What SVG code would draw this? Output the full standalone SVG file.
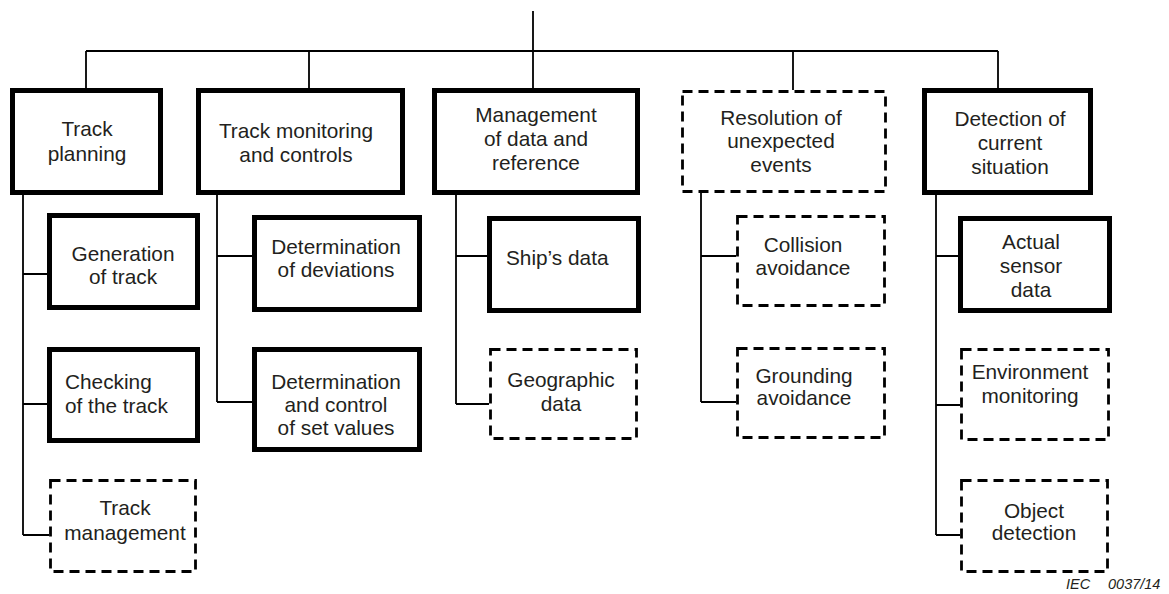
<svg xmlns="http://www.w3.org/2000/svg" width="1169" height="594" viewBox="0 0 1169 594">
<style>
.thick{fill:#fff;stroke:#000;stroke-width:5}
.dash{fill:#fff;stroke:#000;stroke-width:2.8;stroke-dasharray:10 6}
.con{fill:none;stroke:#000;stroke-width:1.8}
text{font-family:"Liberation Sans",Arial,sans-serif;font-size:20.8px;fill:#231F20}
.c{text-anchor:middle}
.iec{font-size:14.5px;font-style:italic}
</style>
<rect width="1169" height="594" fill="#fff"/>
<g id="connectors" class="con">
<path d="M533 11V51M86 51H998M86 51V88M309 51V88M533 51V88M793 51V90M998 51V88"/>
<path d="M23 195V535M23 274H47M23 404H47M23 535H49"/>
<path d="M217 195V402M217 256H252M217 402H252"/>
<path d="M456 195V404M456 256H487M456 404H489"/>
<path d="M701 193V402M701 256H736M701 402H736"/>
<path d="M936 195V535M936 256H958M936 405H960M936 535H960"/>
</g>
<g id="track-planning"><rect class="thick" x="12.5" y="90.5" width="148" height="102"/><text class="c" x="87" y="136">Track</text><text class="c" x="87" y="161">planning</text></g>
<g id="track-monitoring"><rect class="thick" x="198.5" y="90.5" width="204" height="102"/><text class="c" x="296" y="138">Track monitoring</text><text class="c" x="296" y="162">and controls</text></g>
<g id="management"><rect class="thick" x="434.5" y="90.5" width="203" height="102"/><text class="c" x="536" y="122">Management</text><text class="c" x="536" y="146">of data and</text><text class="c" x="536" y="170">reference</text></g>
<g id="resolution"><rect class="dash" x="682.5" y="91.5" width="203" height="100"/><text class="c" x="781" y="125">Resolution of</text><text class="c" x="781" y="148">unexpected</text><text class="c" x="781" y="172">events</text></g>
<g id="detection"><rect class="thick" x="924.5" y="90.5" width="166" height="102"/><text class="c" x="1010" y="126">Detection of</text><text class="c" x="1010" y="150">current</text><text class="c" x="1010" y="174">situation</text></g>
<g id="generation"><rect class="thick" x="49.5" y="215.5" width="148" height="92"/><text class="c" x="123" y="261">Generation</text><text class="c" x="123" y="284">of track</text></g>
<g id="checking"><rect class="thick" x="49.5" y="349.5" width="148" height="91"/><text x="65" y="389">Checking</text><text x="65" y="413">of the track</text></g>
<g id="track-management"><rect class="dash" x="50.5" y="480.5" width="145" height="91"/><text class="c" x="125" y="515">Track</text><text class="c" x="125" y="540">management</text></g>
<g id="det-deviations"><rect class="thick" x="254.5" y="217.5" width="165" height="92"/><text class="c" x="336" y="254">Determination</text><text class="c" x="336" y="277">of deviations</text></g>
<g id="det-control"><rect class="thick" x="254.5" y="349.5" width="165" height="100"/><text class="c" x="336" y="389">Determination</text><text class="c" x="336" y="412">and control</text><text class="c" x="336" y="435">of set values</text></g>
<g id="ships-data"><rect class="thick" x="489.5" y="218.5" width="149" height="92"/><text x="506" y="265">Ship’s data</text></g>
<g id="geographic"><rect class="dash" x="490.5" y="349.5" width="146" height="89"/><text class="c" x="561" y="387">Geographic</text><text class="c" x="561" y="411">data</text></g>
<g id="collision"><rect class="dash" x="737.5" y="216.5" width="147" height="89"/><text class="c" x="803" y="252">Collision</text><text class="c" x="803" y="275">avoidance</text></g>
<g id="grounding"><rect class="dash" x="737.5" y="348.5" width="147" height="89"/><text class="c" x="804" y="383">Grounding</text><text class="c" x="804" y="405">avoidance</text></g>
<g id="actual-sensor"><rect class="thick" x="960.5" y="218.5" width="149" height="92"/><text class="c" x="1031" y="249">Actual</text><text class="c" x="1031" y="273">sensor</text><text class="c" x="1031" y="297">data</text></g>
<g id="environment"><rect class="dash" x="961.5" y="349.5" width="147" height="90"/><text class="c" x="1030" y="379">Environment</text><text class="c" x="1030" y="403">monitoring</text></g>
<g id="object-detection"><rect class="dash" x="961.5" y="480.5" width="146" height="91"/><text class="c" x="1034" y="518">Object</text><text class="c" x="1034" y="540">detection</text></g>
<text class="iec" y="589"><tspan x="1066">IEC</tspan> <tspan x="1108">0037/14</tspan></text>
</svg>
